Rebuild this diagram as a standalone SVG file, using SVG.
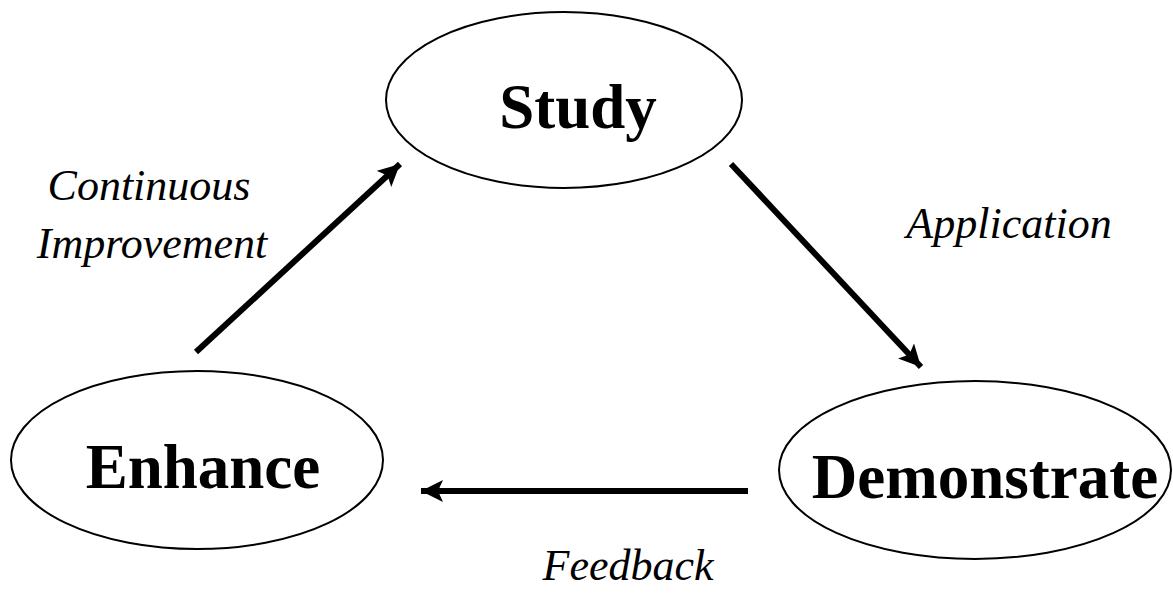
<svg xmlns="http://www.w3.org/2000/svg" width="1173" height="602" viewBox="0 0 1173 602">
<style>
.node ellipse{fill:#fff;stroke:#000;stroke-width:2}
.node text{font-family:"Liberation Serif","Times New Roman",serif;font-weight:bold;font-size:63px;text-anchor:middle;fill:#000}
.lbl{font-family:"Liberation Serif","Times New Roman",serif;font-style:italic;font-size:44px;fill:#000;text-anchor:middle}
.conn line{stroke:#000;stroke-width:6;marker-end:url(#ah)}
</style>
<defs>
<marker id="ah" markerUnits="userSpaceOnUse" markerWidth="24" markerHeight="22" refX="22" refY="11" orient="auto">
<path d="M0,0 L22,11 L0,22 L5,11 Z" fill="#000"/>
</marker>
</defs>
<rect width="1173" height="602" fill="#fff"/>
<g id="study" class="node">
<ellipse cx="564" cy="100" rx="178" ry="88"/>
<text x="578" y="128">Study</text>
</g>
<g id="enhance" class="node">
<ellipse cx="197" cy="460" rx="186" ry="89"/>
<text x="203" y="488">Enhance</text>
</g>
<g id="demonstrate" class="node">
<ellipse cx="975" cy="470" rx="196" ry="89"/>
<text x="985" y="498">Demonstrate</text>
</g>
<g id="connectors" class="conn">
<line x1="196" y1="352" x2="400" y2="164"/>
<line x1="731" y1="164" x2="921" y2="367"/>
<line x1="748" y1="491" x2="421" y2="491"/>
</g>
<g id="labels">
<text class="lbl" x="149" y="200">Continuous</text>
<text class="lbl" x="152" y="258">Improvement</text>
<text class="lbl" x="1009" y="238">Application</text>
<text class="lbl" x="628" y="580">Feedback</text>
</g>
</svg>
